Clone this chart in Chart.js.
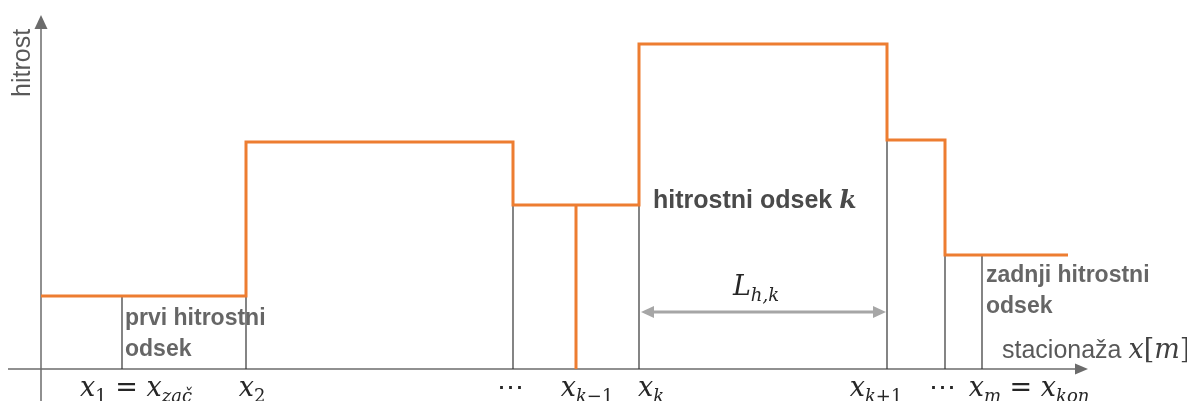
<!DOCTYPE html>
<html>
<head>
<meta charset="utf-8">
<script src="https://cdn.jsdelivr.net/npm/chart.js@4.4.1/dist/chart.umd.min.js"></script>
<style>
  body { margin: 0; background: #fff; }
</style>
</head>
<body>
<canvas id="speedChart" width="1187" height="401"></canvas>
<script>
// section starts (stacionaža) and speed on each section
const sectionStart = [0, 20.5, 47.2, 59.8, 84.6, 90.4];
const sectionSpeed = [7.3, 22.7, 16.4, 32.5, 22.9, 11.4];
const routeEnd = 102.7;
// x_{k-1} drawn as a drop to zero
const dropAt = 53.5;
// thin black boundary lines
const boundaries = [8.1, 20.5, 47.2, 59.8, 84.6, 90.4, 94.1];
// labels under the axis and where they sit
const tickAt = [9.5, 21.1, 46.9, 54.6, 61.0, 83.5, 90.1, 98.8];
const tickLabels = [
    [['x', 'i'], ['1', 's'], [' = ', 'n'], ['x', 'i'], ['zač', 'si']],
    [['x', 'i'], ['2', 's']],
    [['⋯', 'n']],
    [['x', 'i'], ['k', 'si'], ['−1', 's']],
    [['x', 'i'], ['k', 'si']],
    [['x', 'i'], ['k', 'si'], ['+1', 's']],
    [['⋯', 'n']],
    [['x', 'i'], ['m', 'si'], [' = ', 'n'], ['x', 'i'], ['kon', 'si']]
];
const lengthArrow = { from: 59.8, to: 84.6, y: 5.7 };

function levelAt(x) {
    let v = sectionSpeed[0];
    for (let i = 0; i < sectionStart.length; i++) {
        if (x >= sectionStart[i]) v = sectionSpeed[i];
    }
    return v;
}

const orange = '#ED7D31';
const axisGray = '#6b6b6b';
const mathFonts = {
    i: 'italic 27px "DejaVu Serif"',
    n: '27px "DejaVu Serif"',
    s: '18px "DejaVu Serif"',
    si: 'italic 18px "DejaVu Serif"',
    b: 'bold italic 25px "DejaVu Serif"'
};

function drawRuns(ctx, runs, x, y, align) {
    let w = 0;
    runs.forEach(r => { ctx.font = mathFonts[r[1]]; w += ctx.measureText(r[0]).width; });
    let cx = align === 'center' ? x - w / 2 : x;
    ctx.textAlign = 'left';
    ctx.textBaseline = 'alphabetic';
    runs.forEach(r => {
        ctx.font = mathFonts[r[1]];
        const dy = (r[1] === 's' || r[1] === 'si') ? 6 : 0;
        ctx.fillText(r[0], cx, y + dy);
        cx += ctx.measureText(r[0]).width;
    });
}

function arrowHead(ctx, tipX, tipY, dx, dy, len, half) {
    ctx.beginPath();
    ctx.moveTo(tipX, tipY);
    ctx.lineTo(tipX - dx * len - dy * half, tipY - dy * len + dx * half);
    ctx.lineTo(tipX - dx * len + dy * half, tipY - dy * len - dx * half);
    ctx.closePath();
    ctx.fill();
}

const diagramPlugin = {
    id: 'diagram',
    beforeDatasetsDraw(chart) {
        const ctx = chart.ctx;
        const xs = chart.scales.x, ys = chart.scales.y;
        ctx.save();
        ctx.strokeStyle = axisGray;
        ctx.fillStyle = axisGray;
        ctx.lineWidth = 1.5;
        // x axis
        const y0 = ys.getPixelForValue(0);
        const xl = xs.getPixelForValue(-3.3), xr = xs.getPixelForValue(104.7);
        ctx.beginPath(); ctx.moveTo(xl, y0); ctx.lineTo(xr - 8, y0); ctx.stroke();
        arrowHead(ctx, xr, y0, 1, 0, 13, 5.5);
        // y axis
        const x0 = xs.getPixelForValue(0);
        const yb = ys.getPixelForValue(-3.4), yt = ys.getPixelForValue(35.4);
        ctx.beginPath(); ctx.moveTo(x0, yb); ctx.lineTo(x0, yt + 8); ctx.stroke();
        arrowHead(ctx, x0, yt, 0, -1, 14, 6.5);
        ctx.restore();
    },
    afterDatasetsDraw(chart) {
        const ctx = chart.ctx;
        const xs = chart.scales.x, ys = chart.scales.y;
        const px = v => xs.getPixelForValue(v);
        const py = v => ys.getPixelForValue(v);
        ctx.save();

        // L_{h,k} double arrow
        ctx.strokeStyle = '#a6a6a6';
        ctx.fillStyle = '#a6a6a6';
        ctx.lineWidth = 3;
        const ay = py(lengthArrow.y);
        const a1 = px(lengthArrow.from) + 2, a2 = px(lengthArrow.to) - 1;
        ctx.beginPath(); ctx.moveTo(a1 + 10, ay); ctx.lineTo(a2 - 10, ay); ctx.stroke();
        arrowHead(ctx, a1, ay, -1, 0, 13, 6);
        arrowHead(ctx, a2, ay, 1, 0, 13, 6);

        // math labels
        ctx.fillStyle = '#262626';
        tickLabels.forEach((runs, i) => drawRuns(ctx, runs, px(tickAt[i]), py(-2.7), 'center'));
        drawRuns(ctx, [['L', 'i'], ['h,k', 'si']], px(71.5), py(7.4), 'center');

        // section text
        ctx.textAlign = 'left';
        ctx.textBaseline = 'alphabetic';
        ctx.fillStyle = '#666666';
        ctx.font = 'bold 23px "Liberation Sans", Arial, sans-serif';
        ctx.fillText('prvi hitrostni', px(8.4), py(4.4));
        ctx.fillText('odsek', px(8.4), py(4.4) + 31);
        ctx.fillText('zadnji hitrostni', px(94.5), py(8.7));
        ctx.fillText('odsek', px(94.5), py(8.7) + 31);

        ctx.fillStyle = '#4a4a4a';
        ctx.font = 'bold 25px "Liberation Sans", Arial, sans-serif';
        const t = 'hitrostni odsek ';
        ctx.fillText(t, px(61.2), py(16.1));
        const tw = ctx.measureText(t).width;
        ctx.font = mathFonts.b;
        ctx.fillText('k', px(61.2) + tw, py(16.1));

        // axis titles
        ctx.fillStyle = '#595959';
        ctx.font = '25px "Liberation Sans", Arial, sans-serif';
        const st = 'stacionaža ';
        ctx.fillText(st, px(96.1), py(1.1));
        const sw = ctx.measureText(st).width;
        ctx.fillStyle = '#404040';
        drawRuns(ctx, [['x', 'i'], ['[', 'n'], ['m', 'i'], [']', 'n']], px(96.1) + sw, py(1.1), 'left');

        ctx.fillStyle = '#595959';
        ctx.font = '25px "Liberation Sans", Arial, sans-serif';
        ctx.translate(px(-1.1), py(27.2));
        ctx.rotate(-Math.PI / 2);
        ctx.fillText('hitrost', 0, 0);
        ctx.restore();
    }
};

const stepData = sectionStart.map((s, i) => ({ x: s, y: sectionSpeed[i] }));
stepData.push({ x: routeEnd, y: sectionSpeed[sectionSpeed.length - 1] });

const boundaryDatasets = boundaries.map(b => ({
    data: [{ x: b, y: 0 }, { x: b, y: Math.min(levelAt(b - 0.01), levelAt(b + 0.01)) }],
    borderColor: '#333333',
    borderWidth: 1.2,
    pointRadius: 0,
    showLine: true,
    clip: false,
    order: 3
}));

new Chart(document.getElementById('speedChart'), {
    type: 'scatter',
    data: {
        datasets: [
            {
                label: 'hitrost',
                data: stepData,
                stepped: 'before',
                borderColor: orange,
                borderWidth: 3,
                pointRadius: 0,
                showLine: true,
                clip: false,
                order: 1
            },
            {
                label: 'x_k-1',
                data: [{ x: dropAt, y: levelAt(dropAt) }, { x: dropAt, y: 0 }],
                borderColor: orange,
                borderWidth: 3,
                pointRadius: 0,
                showLine: true,
                clip: false,
                order: 2
            },
            ...boundaryDatasets
        ]
    },
    options: {
        responsive: false,
        animation: false,
        layout: { padding: { left: 41, right: 102, top: 15, bottom: 32 } },
        scales: {
            x: { type: 'linear', min: 0, max: 104.4, display: false },
            y: { min: 0, max: 35.4, display: false }
        },
        plugins: {
            legend: { display: false },
            tooltip: { enabled: false }
        }
    },
    plugins: [diagramPlugin]
});
</script>
</body>
</html>
